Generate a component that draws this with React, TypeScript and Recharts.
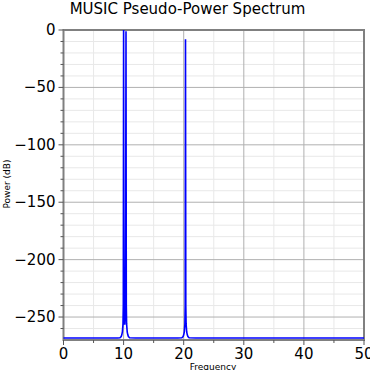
import React from 'react';
import { LineChart, Line, XAxis, YAxis, CartesianGrid, ReferenceArea } from 'recharts';

const freq = [0, 5, 9, 9.4, 9.6, 9.7, 9.8, 9.9, 9.95, 10, 10.05, 10.1, 10.15, 10.2, 10.25, 10.3, 10.35, 10.4, 10.45, 10.5, 10.6, 10.7, 10.8, 11.0, 12, 15, 19, 19.7, 19.9, 20.0, 20.1, 20.2, 20.25, 20.3, 20.35, 20.4, 20.5, 20.6, 20.7, 20.9, 22, 25, 30, 35, 40, 45, 50];
const power = [-268.2, -268.2, -268.2, -268, -267, -265.5, -263, -256, -240, 0, -230, -250, -256, -256, -250, -230, -150, -1, -240, -256, -263, -265.5, -267, -268, -268.2, -268.2, -268.2, -268, -267, -265.5, -263, -256, -240, -8, -240, -256, -263, -265.5, -267, -268, -268.2, -268.2, -268.2, -268.2, -268.2, -268.2, -268.2];

const xTicks = [0, 5, 10, 15, 20, 25, 30, 35, 40, 45, 50];
const xMajor = [0, 10, 20, 30, 40, 50];
const yTicks = [-260, -250, -240, -230, -220, -210, -200, -190, -180, -170, -160, -150, -140, -130, -120, -110, -100, -90, -80, -70, -60, -50, -40, -30, -20, -10, 0];
const yMajor = [-250, -200, -150, -100, -50, 0];
const yMinor = yTicks.filter((v) => !yMajor.includes(v));
const xMinor = xTicks.filter((v) => !xMajor.includes(v));

const data = freq.map((f, i) => ({ f, p: power[i] }));

const FONT = 'DejaVu Sans, sans-serif';
const fmt = (v: number) => (v < 0 ? '\u2212' + Math.abs(v) : String(v));

const YTick = (props: any) => {
  const { x, y, payload } = props;
  const v = payload.value;
  const major = yMajor.includes(v);
  const len = major ? 5 : 3;
  return (
    <g>
      <line x1={x} x2={x - len} y1={y} y2={y} stroke="#555" strokeWidth={1} />
      {major && (
        <text x={x - len - 3} y={y} textAnchor="end" dominantBaseline="central" fontSize={15} fontFamily={FONT} fill="#000">
          {fmt(v)}
        </text>
      )}
    </g>
  );
};

const XTick = (props: any) => {
  const { x, y, payload } = props;
  const v = payload.value;
  const major = xMajor.includes(v);
  const len = major ? 5 : 3;
  return (
    <g>
      <line x1={x} x2={x} y1={y} y2={y + len} stroke="#555" strokeWidth={1} />
      {major && (
        <text x={x} y={y + len + 3} textAnchor="middle" dominantBaseline="hanging" fontSize={15} fontFamily={FONT} fill="#000">
          {fmt(v)}
        </text>
      )}
    </g>
  );
};

export default function App() {
  return (
    <div style={{ position: 'absolute', left: 0, top: 0, width: 370, height: 370, background: '#fff', overflow: 'hidden', fontFamily: FONT }}>
      <div style={{ position: 'absolute', left: 0, width: 375, top: 0, textAlign: 'center', fontSize: 15, color: '#000', whiteSpace: 'nowrap' }}>
        MUSIC Pseudo-Power Spectrum
      </div>
      <div style={{ position: 'absolute', left: 213, top: 362, transform: 'translateX(-50%)', fontSize: 9, color: '#000', whiteSpace: 'nowrap' }}>
        Frequency
      </div>
      <div style={{ position: 'absolute', left: 7, top: 184, transform: 'translate(-50%, -50%) rotate(-90deg)', fontSize: 9, color: '#000', whiteSpace: 'nowrap' }}>
        Power (dB)
      </div>
      <LineChart width={370} height={370} data={data} margin={{ top: 30, right: 6, bottom: 0, left: 0 }}>
        <CartesianGrid horizontalValues={yMinor} verticalValues={xMinor} stroke="#e8e8e8" strokeWidth={1} />
        <CartesianGrid horizontalValues={yMajor} verticalValues={xMajor} stroke="#b0b0b0" strokeWidth={1} />
        <XAxis
          dataKey="f"
          type="number"
          domain={[0, 50]}
          ticks={xTicks}
          interval={0}
          height={30}
          tickSize={0}
          tickMargin={0}
          axisLine={false}
          tickLine={false}
          tick={<XTick />}
        />
        <YAxis
          type="number"
          domain={[-270, 0]}
          ticks={yTicks}
          interval={0}
          width={63.5}
          tickSize={0}
          tickMargin={0}
          axisLine={false}
          tickLine={false}
          tick={<YTick />}
        />
        <ReferenceArea x1={0} x2={50} y1={-270} y2={0} fill="none" stroke="#808080" strokeWidth={2} ifOverflow="visible" />
        <Line type="linear" dataKey="p" stroke="#0000ff" strokeWidth={1.6} dot={false} isAnimationActive={false} />
      </LineChart>
    </div>
  );
}
